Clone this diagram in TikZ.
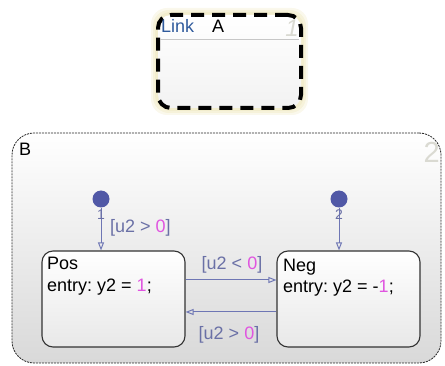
\documentclass[tikz,border=0pt]{standalone}
\usepackage{fontspec}
\setmainfont{Liberation Sans}
\usetikzlibrary{arrows.meta,calc}
\frenchspacing
\definecolor{trc}{HTML}{6E76B4}
\definecolor{lblc}{HTML}{6A70A6}
\definecolor{numc}{HTML}{E055E0}
\definecolor{dotc}{HTML}{5058A6}
\definecolor{linkc}{HTML}{2F5A9C}
\definecolor{ghost}{HTML}{DADAD2}
\definecolor{edge}{HTML}{333333}
\definecolor{glowc}{HTML}{EFE8C0}
\newcommand\mgn[1]{\textcolor{numc}{#1}}
\tikzset{
  txt/.style={font=\fontsize{18}{21}\selectfont\frenchspacing, inner sep=0pt},
  statebox/.style={draw=edge, line width=1.1pt, rounded corners=11pt, top color=white, bottom color=black!9, minimum width=143pt, minimum height=96pt, inner sep=0pt},
  initdot/.style={circle, fill=dotc, minimum size=17pt, inner sep=0pt},
  trans/.style={draw=trc, line width=1pt, -{Triangle[open, length=8pt, width=6pt]}},
  lbl/.style={txt, text=lblc},
}
\begin{document}
\begin{tikzpicture}[x=1pt,y=-1pt]
\useasboundingbox (0,0) rectangle (445,366);
% glow around A
\foreach \g/\o in {7/0.3,5/0.4,3/0.5}{
  \fill[glowc, opacity=\o, rounded corners=16pt] (158-\g,15-\g) rectangle (301+\g,108+\g);
}
% box A
\node[draw=black, line width=4pt, dash pattern=on 13pt off 8pt, rounded corners=13pt, top color=white, bottom color=black!5, minimum width=143pt, minimum height=93pt, inner sep=0pt] (A) at (229.5,61.5) {};
\draw[black!22, line width=0.8pt] (160,39) -- (299,39);
\node[txt, anchor=base west, text=linkc] (link) at (161,33) {Link};
\node[txt, anchor=base west] (Alab) at (212,33) {A};
\node[anchor=base east, inner sep=0pt, text=ghost, font=\fontsize{24}{26}\selectfont\itshape] (Anum) at (299,37) {1};
% box B
\node[draw=black!85, line width=0.8pt, dash pattern=on 2pt off 1pt, rounded corners=22pt, top color=white, bottom color=black!15, minimum width=429pt, minimum height=230pt, inner sep=0pt] (B) at (226.5,248) {};
\node[txt, anchor=base west] (Blab) at (19,156) {B};
\node[anchor=base east, inner sep=0pt, text=ghost, font=\fontsize{29}{31}\selectfont] (Bnum) at (440,163) {2};
% states
\node[statebox] (P) at (113.5,299) {};
\node[statebox] (N) at (348.5,299) {};
\node[txt, anchor=base west] (Pname) at (47,270) {Pos};
\node[txt, anchor=base west] (Pentry) at (47,292) {entry: y2 = \mgn{1};};
\node[txt, anchor=base west] (Nname) at (283,272) {Neg};
\node[txt, anchor=base west] (Nentry) at (283,293) {entry: y2 = -\mgn{1};};
% default transitions
\node[initdot] (d1) at (101,199) {};
\node[initdot] (d2) at (339,199) {};
\draw[trans] (d1.south) -- (d1 |- P.north);
\draw[trans] (d2.south) -- (d2 |- N.north);
\node[inner sep=0pt, text=lblc, font=\fontsize{14}{15}\selectfont] (n1) at (101,215) {1};
\node[inner sep=0pt, text=lblc, font=\fontsize{14}{15}\selectfont] (n2) at (339,215) {2};
\node[lbl, anchor=west] (l1) at (110,228) {[u2 > \mgn{0}]};
% transitions between states
\draw[trans] (P.east |- 0,280) -- (N.west |- 0,280);
\draw[trans] (N.west |- 0,312) -- (P.east |- 0,312);
\node[lbl] (l2) at (232,265) {[u2 < \mgn{0}]};
\node[lbl] (l3) at (229,335) {[u2 > \mgn{0}]};
\end{tikzpicture}
\end{document}
